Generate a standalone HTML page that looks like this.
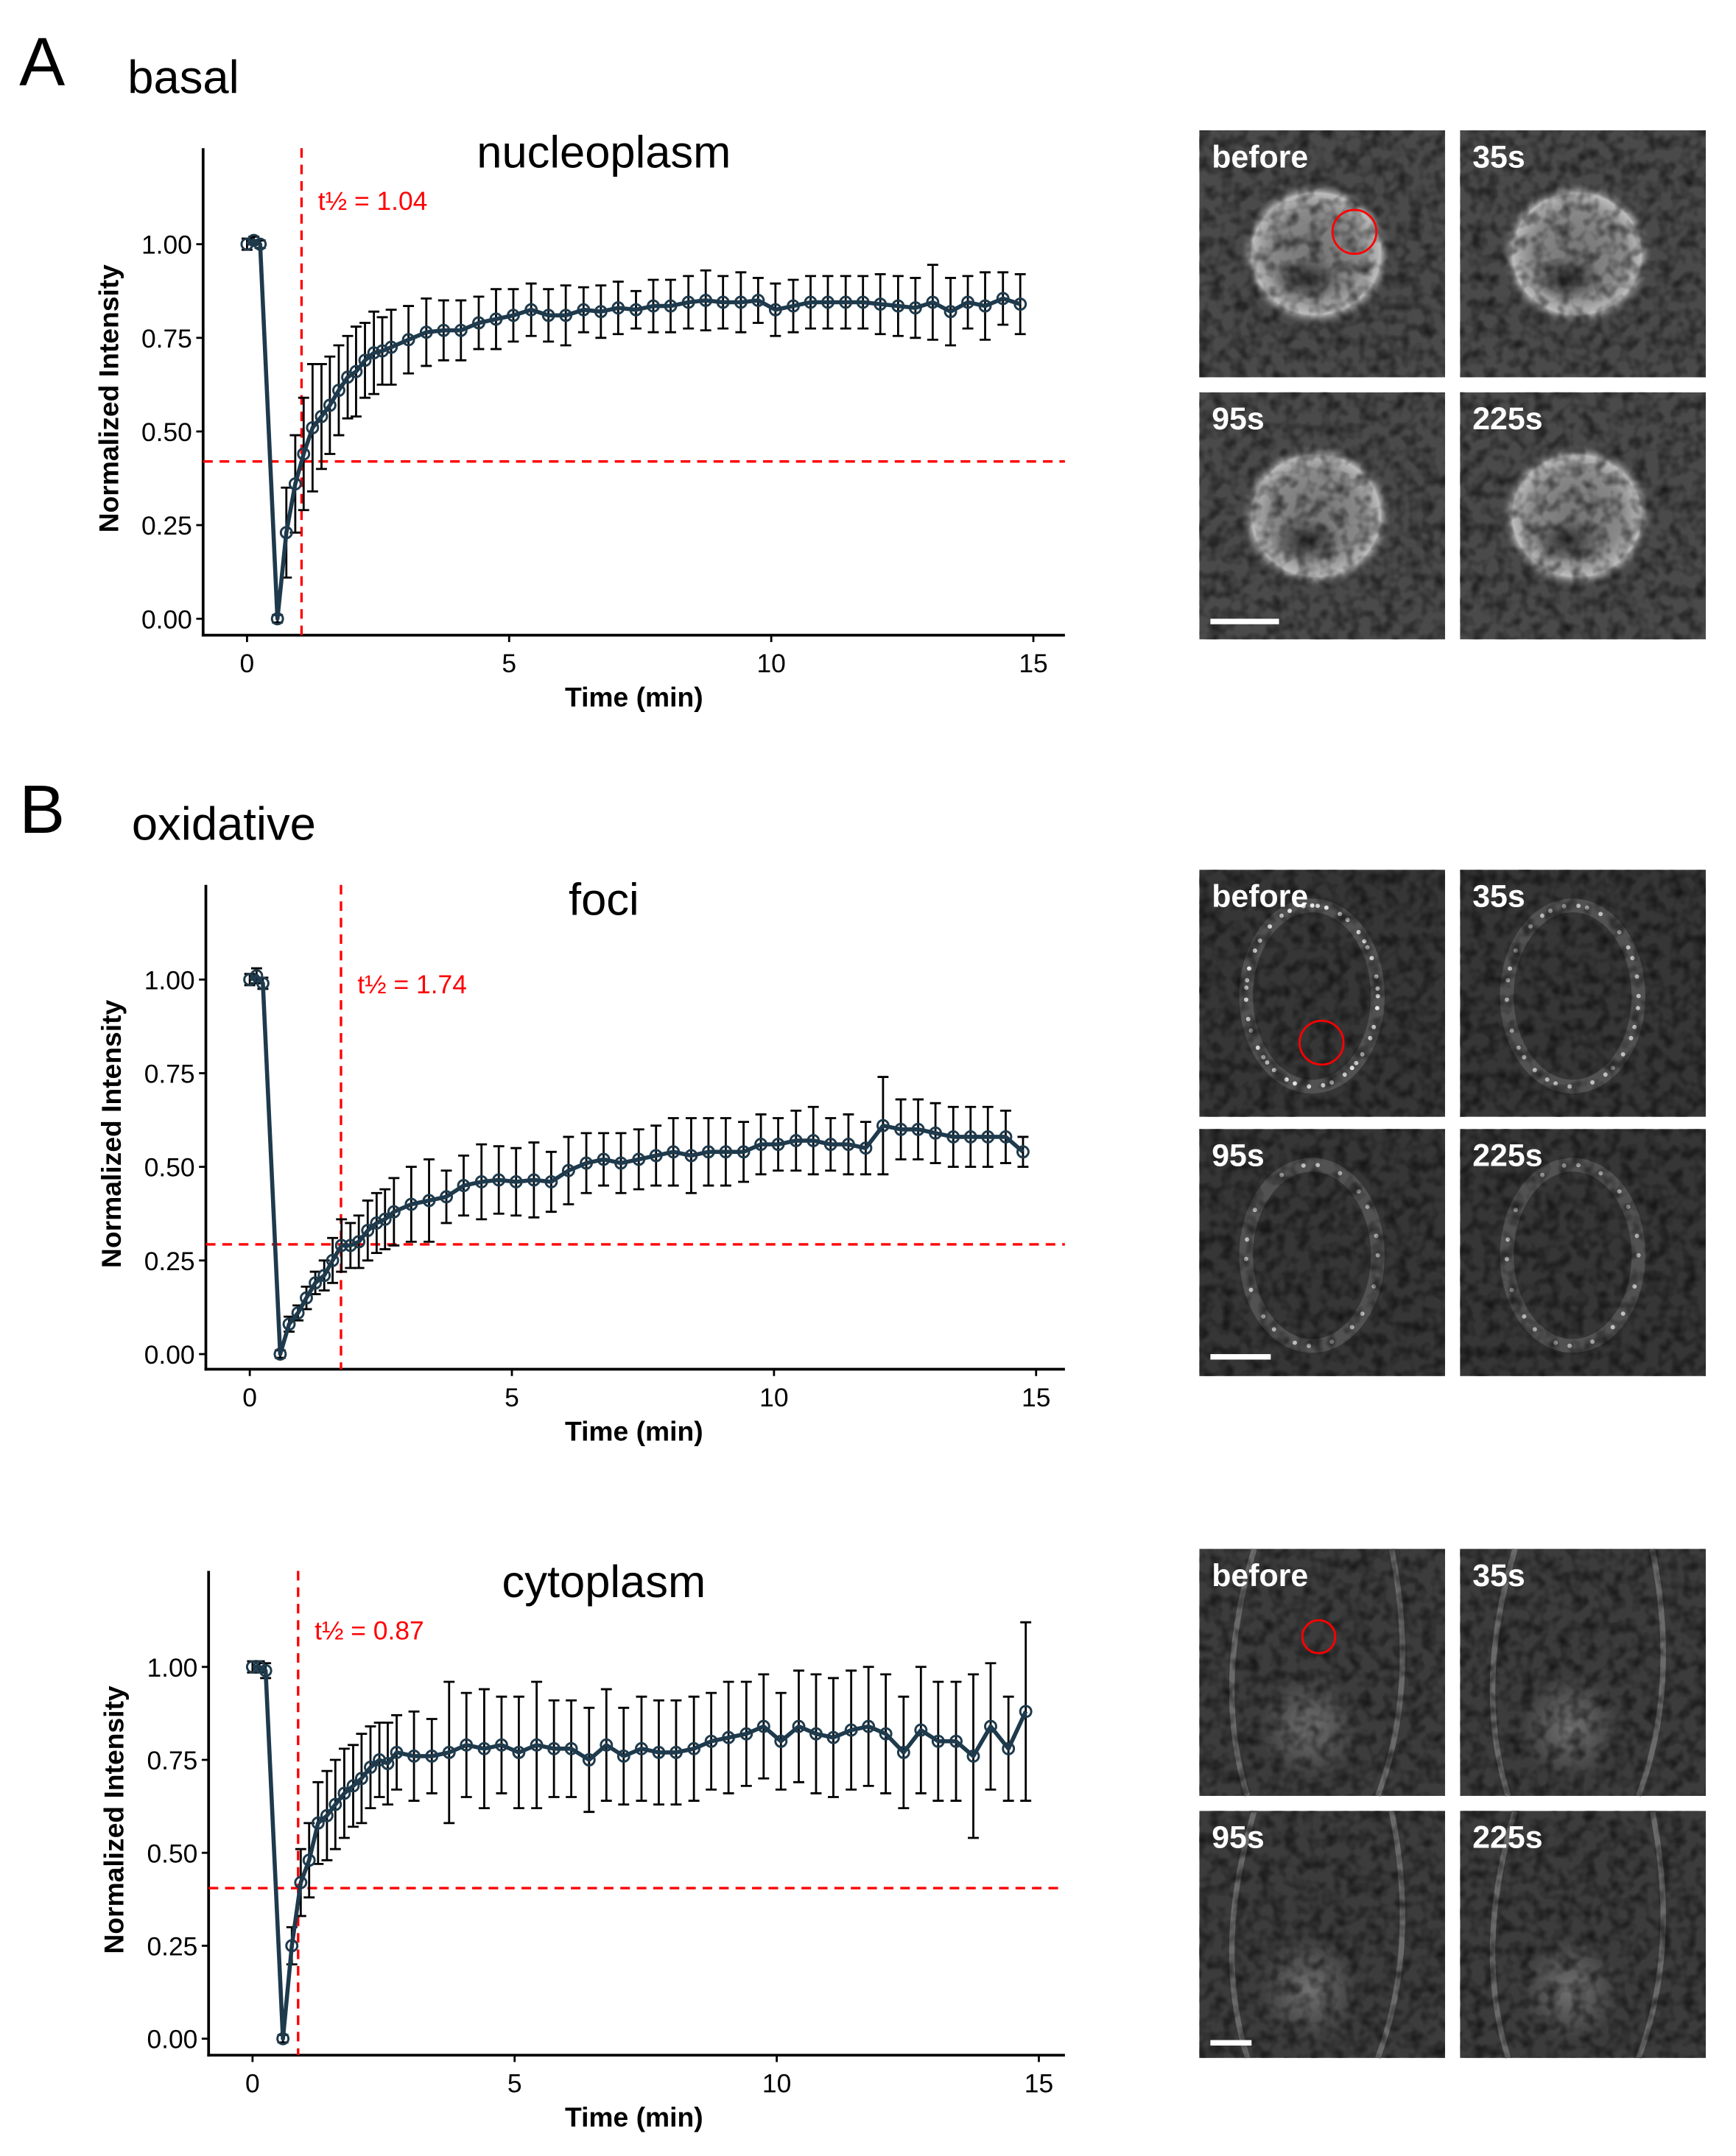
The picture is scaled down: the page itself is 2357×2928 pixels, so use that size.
<!DOCTYPE html>
<html><head><meta charset="utf-8">
<style>
html,body{margin:0;padding:0;background:#fff;}
svg{display:block;}
text{font-family:"Liberation Sans",Arial,sans-serif;}
</style></head>
<body>
<svg id="fig" width="2357" height="2928" viewBox="0 0 1265 1571.5" xmlns="http://www.w3.org/2000/svg">
<defs>
<filter id="noise2" x="0" y="0" width="100%" height="100%">
<feTurbulence type="fractalNoise" baseFrequency="0.11" numOctaves="2" seed="7"/>
<feColorMatrix type="matrix" values="0 0 0 0 0  0 0 0 0 0  0 0 0 0 0  0 0 0 -1.4 0.85"/>
</filter>
<radialGradient id="ring" cx="0.5" cy="0.5" r="0.5">
<stop offset="0" stop-color="#9a9a9a" stop-opacity="0.55"/>
<stop offset="0.6" stop-color="#aaaaaa" stop-opacity="0.65"/>
<stop offset="0.85" stop-color="#d0d0d0" stop-opacity="0.85"/>
<stop offset="1" stop-color="#555" stop-opacity="0"/>
</radialGradient>
<radialGradient id="blob" cx="0.5" cy="0.5" r="0.5">
<stop offset="0" stop-color="#222" stop-opacity="0.9"/>
<stop offset="1" stop-color="#222" stop-opacity="0"/>
</radialGradient>
<radialGradient id="glow" cx="0.5" cy="0.5" r="0.5">
<stop offset="0" stop-color="#888" stop-opacity="0.7"/>
<stop offset="1" stop-color="#888" stop-opacity="0"/>
</radialGradient>
</defs>

<text x="14" y="62" font-size="50">A</text>
<text x="93" y="68" font-size="34">basal</text>
<text x="14" y="607" font-size="50">B</text>
<text x="96" y="612" font-size="34">oxidative</text>

<g id="charts"></g>
<g id="imgs"></g>
</svg>

<script>
// ---------- Data ----------
const timesA = [0,0.13,0.25,0.58,0.75,0.92,1.08,1.25,1.42,1.58,1.75,1.92,2.08,2.25,2.42,2.58,2.75,3.08,3.42,3.75,4.08,4.42,4.75,5.08,5.42,5.75,6.08,6.42,6.75,7.08,7.42,7.75,8.08,8.42,8.75,9.08,9.42,9.75,10.08,10.42,10.75,11.08,11.42,11.75,12.08,12.42,12.75,13.08,13.42,13.75,14.08,14.42,14.75];
const nucleoplasmMean = [1.00,1.01,1.00,0.00,0.23,0.36,0.44,0.51,0.54,0.57,0.61,0.645,0.66,0.69,0.71,0.715,0.725,0.745,0.765,0.77,0.77,0.79,0.80,0.81,0.825,0.81,0.81,0.825,0.82,0.83,0.825,0.835,0.835,0.845,0.85,0.845,0.845,0.85,0.825,0.835,0.845,0.845,0.845,0.845,0.84,0.835,0.83,0.845,0.82,0.845,0.835,0.855,0.84];
const nucleoplasmErr = [0.015,0.01,0.01,0.01,0.12,0.13,0.15,0.17,0.14,0.13,0.12,0.11,0.12,0.10,0.11,0.09,0.10,0.09,0.09,0.08,0.08,0.07,0.08,0.07,0.07,0.07,0.08,0.06,0.07,0.07,0.05,0.07,0.07,0.07,0.08,0.07,0.08,0.06,0.07,0.07,0.07,0.07,0.07,0.07,0.08,0.08,0.08,0.10,0.09,0.07,0.09,0.07,0.08];

const timesB = timesA;
const fociMean = [1.00,1.01,0.99,0.00,0.08,0.11,0.15,0.19,0.21,0.25,0.29,0.29,0.30,0.33,0.35,0.36,0.38,0.40,0.41,0.42,0.45,0.46,0.465,0.46,0.465,0.46,0.49,0.51,0.52,0.51,0.52,0.53,0.54,0.53,0.54,0.54,0.54,0.56,0.56,0.57,0.57,0.56,0.56,0.55,0.61,0.60,0.60,0.59,0.58,0.58,0.58,0.58,0.54];
const fociErr = [0.015,0.02,0.015,0.01,0.02,0.02,0.03,0.03,0.04,0.06,0.07,0.06,0.07,0.08,0.08,0.08,0.09,0.10,0.11,0.07,0.08,0.10,0.09,0.09,0.10,0.08,0.09,0.08,0.07,0.08,0.08,0.08,0.09,0.10,0.09,0.09,0.08,0.08,0.07,0.08,0.09,0.07,0.08,0.07,0.13,0.08,0.08,0.08,0.08,0.08,0.08,0.07,0.04];

const timesC = timesA;
const cytoMean = [1.00,1.00,0.99,0.00,0.25,0.42,0.48,0.58,0.60,0.63,0.66,0.68,0.70,0.73,0.75,0.74,0.77,0.76,0.76,0.77,0.79,0.78,0.79,0.77,0.79,0.78,0.78,0.75,0.79,0.76,0.78,0.77,0.77,0.78,0.80,0.81,0.82,0.84,0.80,0.84,0.82,0.81,0.83,0.84,0.82,0.77,0.83,0.80,0.80,0.76,0.84,0.78,0.88];
const cytoErr = [0.015,0.015,0.02,0.01,0.05,0.09,0.10,0.11,0.12,0.12,0.12,0.11,0.12,0.11,0.10,0.11,0.10,0.12,0.10,0.19,0.14,0.16,0.13,0.15,0.17,0.13,0.13,0.14,0.15,0.13,0.14,0.14,0.14,0.14,0.13,0.15,0.14,0.14,0.13,0.15,0.16,0.16,0.16,0.16,0.16,0.15,0.17,0.16,0.16,0.22,0.17,0.14,0.24];

const yTicks = [0,0.25,0.5,0.75,1.0];
const yTickLabels = ["0.00","0.25","0.50","0.75","1.00"];
const xTicks = [0,5,10,15];

const halfTimes = [1.04, 1.74, 0.87];
const halfLevels = [0.42, 0.293, 0.405];

const NS = "http://www.w3.org/2000/svg";
function mk(tag, attrs, parent){const e=document.createElementNS(NS,tag);for(const k in attrs)e.setAttribute(k,attrs[k]);parent.appendChild(e);return e;}

const panels = [
 {name:"nucleoplasm", t:timesA, m:nucleoplasmMean, e:nucleoplasmErr, ax:148, top:108, bot:463, x0:180, y0:451, y1:178, right:776, th:halfTimes[0], hl:halfLevels[0], lbl:"t½ = 1.04", ty:122, ly:153},
 {name:"foci", t:timesB, m:fociMean, e:fociErr, ax:150, top:645, bot:998, x0:182, y0:987, y1:714, right:776, th:halfTimes[1], hl:halfLevels[1], lbl:"t½ = 1.74", ty:667, ly:724},
 {name:"cytoplasm", t:timesC, m:cytoMean, e:cytoErr, ax:152, top:1145, bot:1498, x0:184, y0:1486, y1:1215, right:776, th:halfTimes[2], hl:halfLevels[2], lbl:"t½ = 0.87", ty:1164, ly:1195}
];

const root = document.getElementById('charts');
panels.forEach(p=>{
  const ppm = 38.2;
  const X = v => p.x0 + v*ppm;
  const Y = v => p.y0 - v*(p.y0-p.y1);
  const g = mk('g',{},root);
  
  
  const tt = mk('text',{x:440,y:p.ty,'font-size':33,'text-anchor':'middle'},g); tt.textContent=p.name;
  
  
  const ya = mk('line',{x1:p.ax,y1:p.top,x2:p.ax,y2:p.bot+1,stroke:'#000','stroke-width':2},g);
  
  
  const xa = mk('line',{x1:p.ax-1,y1:p.bot,x2:p.right,y2:p.bot,stroke:'#000','stroke-width':2},g);
  
  
  yTicks.forEach((v,i)=>{
    mk('line',{x1:p.ax-5,y1:Y(v),x2:p.ax,y2:Y(v),stroke:'#000','stroke-width':1.5},g);
    const t=mk('text',{x:p.ax-8,y:Y(v)+7,'font-size':19,'text-anchor':'end'},g); t.textContent=yTickLabels[i];
    
    
  });
  xTicks.forEach(v=>{
    mk('line',{x1:X(v),y1:p.bot,x2:X(v),y2:p.bot+5,stroke:'#000','stroke-width':1.5},g);
    const t=mk('text',{x:X(v),y:p.bot+27,'font-size':19,'text-anchor':'middle'},g); t.textContent=v;
    
    
  });
  const xt=mk('text',{x:462,y:p.bot+52,'font-size':20,'font-weight':'bold','text-anchor':'middle'},g); xt.textContent='Time (min)';
  
  
  const yc=(p.top+p.bot)/2+5;
  const yt=mk('text',{x:0,y:0,'font-size':20,'font-weight':'bold','text-anchor':'middle',transform:`translate(${p.ax-62},${yc}) rotate(-90)`},g); yt.textContent='Normalized Intensity';
  
  
  const vl=mk('line',{x1:X(p.th),y1:p.top,x2:X(p.th),y2:p.bot,stroke:'#f00','stroke-width':1.8,'stroke-dasharray':'7,5'},g);
  
  
  const hl=mk('line',{x1:p.ax,y1:Y(p.hl),x2:p.right,y2:Y(p.hl),stroke:'#f00','stroke-width':1.8,'stroke-dasharray':'7,5'},g);
  
  
  const lt=mk('text',{x:X(p.th)+12,y:p.ly,'font-size':19,fill:'#f00'},g); lt.textContent=p.lbl;
  
  
  p.t.forEach((tv,i)=>{
    const x=X(tv), a=Y(p.m[i]+p.e[i]), b=Y(p.m[i]-p.e[i]);
    const eb=mk('path',{d:`M${x-4},${a}H${x+4}M${x},${a}V${b}M${x-4},${b}H${x+4}`,stroke:'#000','stroke-width':1.5,fill:'none'},g);
    
    
  });
  const d = p.t.map((tv,i)=>(i?'L':'M')+X(tv)+','+Y(p.m[i])).join('');
  const ln=mk('path',{d:d,stroke:'#1e3a4c','stroke-width':3,fill:'none','stroke-linejoin':'round'},g);
  
  
  p.t.forEach((tv,i)=>{
    const c=mk('circle',{cx:X(tv),cy:Y(p.m[i]),r:4,fill:'none',stroke:'#1e3a4c','stroke-width':1.6},g);
    
    
  });
});

// ---------- Micrographs ----------
const imgRoot = document.getElementById('imgs');
const groups = [
 {name:'nucleoplasm', rows:[95,286], kind:'nuc', circle:[987,169,16], bar:[882,451,50]},
 {name:'foci', rows:[634,823], kind:'foci', circle:[963,760,16], bar:[882,987,44]},
 {name:'cytoplasm', rows:[1129,1320], kind:'cyto', circle:[961,1193,12], bar:[882,1487,30]}
];
const cols=[874,1064];
const lbls=['before','35s','95s','225s'];
groups.forEach(gp=>{
  let k=0;
  gp.rows.forEach(ry=>{cols.forEach(cx=>{
    const g=mk('g',{},imgRoot);
    
    
    const bg = gp.kind==='nuc'?'#4a4a4a':(gp.kind==='foci'?'#363636':'#3c3c3c');
    mk('rect',{x:cx,y:ry,width:179,height:180,fill:bg},g);
    if(gp.kind==='nuc'){
      mk('ellipse',{cx:cx+85,cy:ry+90,rx:55,ry:52,fill:'url(#ring)'},g);
      mk('ellipse',{cx:cx+78,cy:ry+108,rx:26,ry:16,fill:'url(#blob)'},g);
    } else if(gp.kind==='foci'){
      mk('ellipse',{cx:cx+82,cy:ry+92,rx:48,ry:66,fill:'none',stroke:'#6a6a6a','stroke-width':10,'stroke-opacity':0.55},g);
      const n = k===0?40:(k===1?30:20);
      for(let j=0;j<n;j++){
        const a=j*2.39996;
        const dot=mk('circle',{cx:cx+82+48*Math.cos(a),cy:ry+92+66*Math.sin(a),r:1.6,fill:'#eee','fill-opacity':k===0?0.95:0.7},g);
      }
    } else {
      mk('ellipse',{cx:cx+80,cy:ry+130,rx:36,ry:38,fill:'url(#glow)'},g);
      mk('path',{d:`M${cx+40},${ry}Q${cx+10},${ry+100} ${cx+35},${ry+180}M${cx+140},${ry}Q${cx+160},${ry+100} ${cx+130},${ry+180}`,stroke:'#888','stroke-width':4,fill:'none','stroke-opacity':0.6},g);
    }
    mk('rect',{x:cx,y:ry,width:179,height:180,fill:'#000',filter:'url(#noise2)','opacity':0.85},g);
    const t=mk('text',{x:cx+9,y:ry+27,'font-size':23,'font-weight':'bold',fill:'#fff'},g); t.textContent=lbls[k];
    
    
    k++;
  });});
  const c=mk('circle',{cx:gp.circle[0],cy:gp.circle[1],r:gp.circle[2],fill:'none',stroke:'#f00','stroke-width':1.5},imgRoot);
  
  
  const b=mk('rect',{x:gp.bar[0],y:gp.bar[1],width:gp.bar[2],height:4,fill:'#fff'},imgRoot);
  
  
});
</script>
</body></html>
